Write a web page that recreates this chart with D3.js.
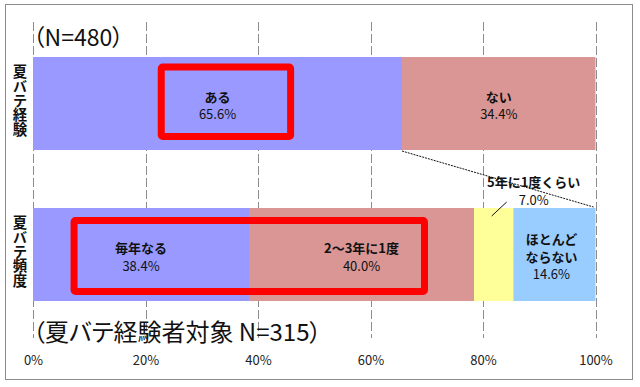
<!DOCTYPE html>
<html><head><meta charset="utf-8">
<script src="https://cdn.jsdelivr.net/npm/d3@7"></script>
<style>
html,body{margin:0;padding:0;background:#fff;}
svg{display:block;font-family:"Noto Sans CJK JP","Noto Sans",sans-serif;}
.palt{font-feature-settings:"palt" 1;}
</style></head>
<body><svg id="c" width="640" height="387"></svg>
<script>
const categories = ["夏バテ経験", "夏バテ頻度"];
const experienceLabels = ["ある", "ない"];
const experienceValues = [65.6, 34.4];
const frequencyLabels = ["毎年なる", "2～3年に1度", "5年に1度くらい", "ほとんど|ならない"];
const frequencyValues = [38.4, 40.0, 7.0, 14.6];
const experienceColors = ["#9999ff", "#d99694"];
const frequencyColors = ["#9999ff", "#d99694", "#ffff99", "#99ccff"];
const tickValues = [0, 20, 40, 60, 80, 100];
const topNote = "（N=480）";
const bottomNote = "（夏バテ経験者対象 N=315）";

const svg = d3.select("#c");
const x = d3.scaleLinear().domain([0, 100]).range([33, 595.5]);
const y = d3.scaleBand().domain(categories).range([57, 57 + 151 + 93]).paddingInner(0.384).paddingOuter(0);

// outer frame
svg.append("rect").attr("x", 5.5).attr("y", 4.5).attr("width", 627).attr("height", 375)
  .attr("fill", "#fff").attr("stroke", "#8c8c8c").attr("stroke-width", 1);

// gridlines
svg.append("g").selectAll("line").data(tickValues).join("line")
  .attr("x1", d => Math.round(x(d)) + 0.5).attr("x2", d => Math.round(x(d)) + 0.5)
  .attr("y1", 22).attr("y2", 338)
  .attr("stroke", "#8c8c8c").attr("stroke-width", 1).attr("stroke-dasharray", "9,3");

// axis
const axis = d3.axisBottom(x).tickValues(tickValues).tickSize(0).tickPadding(0).tickFormat(d => d + "%");
const ag = svg.append("g").attr("transform", "translate(0,356)").call(axis);
ag.select(".domain").remove();
ag.selectAll("text").attr("font-size", 13).attr("fill", "#222")
  .attr("font-family", "'Noto Sans CJK JP',sans-serif");

function stack(vals) {
  let acc = 0;
  return vals.map(v => { const s = acc; acc += v; return [s, acc]; });
}
const expStack = stack(experienceValues);
const freqStack = stack(frequencyValues);

const rows = [
  {cat: categories[0], values: experienceValues, st: expStack, colors: experienceColors},
  {cat: categories[1], values: frequencyValues, st: freqStack, colors: frequencyColors}
];

rows.forEach(r => {
  svg.append("g").selectAll("rect").data(r.values).join("rect")
    .attr("x", (d, i) => x(r.st[i][0])).attr("width", (d, i) => x(r.st[i][1]) - x(r.st[i][0]))
    .attr("y", y(r.cat)).attr("height", y.bandwidth())
    .attr("fill", (d, i) => r.colors[i]);
});

// series connector (dotted)
svg.append("line")
  .attr("x1", x(expStack[0][1])).attr("y1", y(categories[0]) + y.bandwidth() + 1)
  .attr("x2", x(100) - 2).attr("y2", y(categories[1]) - 1)
  .attr("stroke", "#111").attr("stroke-width", 1).attr("stroke-dasharray", "2,1");

// data labels
function label(cx, lines, y0, pct) {
  const t = svg.append("g");
  lines.forEach((ln, i) => {
    t.append("text").attr("x", cx).attr("y", y0 + i * 17.5).attr("text-anchor", "middle")
      .attr("dominant-baseline", "central").attr("font-size", 13).attr("font-weight", "bold")
      .attr("fill", "#111").text(ln);
  });
  t.append("text").attr("x", cx).attr("y", y0 + lines.length * 17.5).attr("text-anchor", "middle")
    .attr("dominant-baseline", "central").attr("font-size", 13).attr("fill", "#111").text(pct.toFixed(1) + "%");
}
const mid = (s) => x((s[0] + s[1]) / 2);
const top1 = y(categories[0]), top2 = y(categories[1]);
label(mid(expStack[0]), [experienceLabels[0]], top1 + 39, experienceValues[0]);
label(mid(expStack[1]), [experienceLabels[1]], top1 + 39, experienceValues[1]);
label(mid(freqStack[0]), [frequencyLabels[0]], top2 + 40, frequencyValues[0]);
label(mid(freqStack[1]), [frequencyLabels[1]], top2 + 40, frequencyValues[1]);
label(mid(freqStack[3]) - 3, frequencyLabels[3].split("|"), top2 + 31, frequencyValues[3]);
const cy = mid(freqStack[2]);
label(cy + 40, [frequencyLabels[2]], top2 - 26, frequencyValues[2]);
svg.append("line").attr("x1", cy - 2).attr("y1", top2 + 8).attr("x2", cy + 13).attr("y2", top2 - 6)
  .attr("stroke", "#111").attr("stroke-width", 1);

// category labels (vertical writing)
categories.forEach(c => {
  svg.append("text").attr("x", 20).attr("y", y(c) + y.bandwidth() / 2 - 3)
    .attr("writing-mode", "vertical-rl").style("text-orientation", "upright")
    .attr("text-anchor", "middle").attr("font-size", 14.4).attr("font-weight", "bold")
    .attr("fill", "#111").text(c);
});

// notes
svg.append("text").attr("class", "palt").attr("x", 33).attr("y", 36).attr("dominant-baseline", "central")
  .attr("font-size", 23).attr("fill", "#111").text(topNote);
svg.append("text").attr("class", "palt").attr("x", 33).attr("y", 330).attr("dominant-baseline", "central")
  .attr("font-size", 24).attr("fill", "#111").text(bottomNote);

// red highlight boxes
function hbox(x0, x1, y0, y1) {
  svg.append("rect").attr("x", x0).attr("y", y0).attr("width", x1 - x0).attr("height", y1 - y0)
    .attr("rx", 1.5).attr("fill", "none").attr("stroke", "#ff0000").attr("stroke-width", 7);
}
hbox(x(22.8), x(45.8), top1 + 10, top1 + 79.5);
hbox(x(7.3), x(69.6), top2 + 12.5, top2 + 83.5);
</script></body></html>
